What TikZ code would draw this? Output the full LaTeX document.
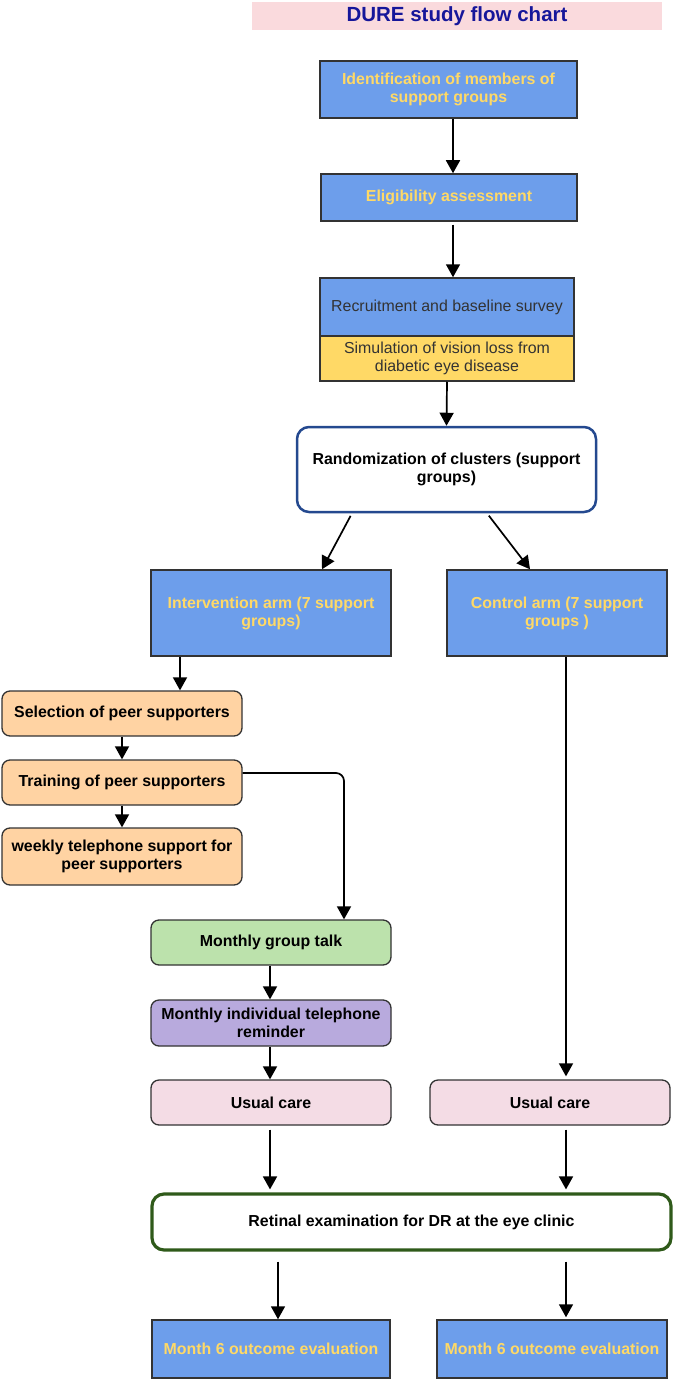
\documentclass[tikz,border=0pt]{standalone}
\usepackage{fontspec}
\setmainfont{Liberation Sans}
\usetikzlibrary{arrows.meta}
\definecolor{boxblue}{HTML}{6D9EEB}
\definecolor{txtyellow}{HTML}{FFD966}
\definecolor{simyellow}{HTML}{FFD966}
\definecolor{edgegray}{HTML}{333333}
\definecolor{peerorange}{HTML}{FFD3A3}
\definecolor{talkgreen}{HTML}{BCE2AC}
\definecolor{remindpurple}{HTML}{B8AADD}
\definecolor{carepink}{HTML}{F4DCE5}
\definecolor{titlepink}{HTML}{FADADD}
\definecolor{titleblue}{HTML}{16169A}
\definecolor{randblue}{HTML}{24498F}
\definecolor{retgreen}{HTML}{2F5A1A}
\begin{document}
\begin{tikzpicture}[x=1pt, y=-1pt, >={Triangle[length=13pt,width=14pt]},
    every node/.style={font=\fontsize{15.9}{18}\selectfont, align=center, inner sep=0pt},
    bluebox/.style={draw=edgegray, line width=1.5pt, fill=boxblue, text=txtyellow,
        font=\bfseries\fontsize{15.9}{18}\selectfont},
    softbox/.style={draw=edgegray, line width=1.3pt, rounded corners=8pt,
        font=\bfseries\fontsize{15.9}{18}\selectfont},
    flow/.style={->, line width=1.7pt}]
    \useasboundingbox (0,0) rectangle (685,1380);

    % title band
    \node[fill=titlepink, minimum width=410pt, minimum height=28pt, text=titleblue,
        font=\bfseries\fontsize{20.5}{24}\selectfont] (title) at (457,16) {DURE study flow chart};

    % enrolment
    \node[bluebox, minimum width=257pt, minimum height=57pt] (ident) at (448.5,89.5)
        {Identification of members of\\support groups};
    \node[bluebox, minimum width=256pt, minimum height=47pt] (elig) at (449,197.5)
        {Eligibility assessment};
    \node[bluebox, text=edgegray, font=\fontsize{15.9}{18}\selectfont,
        minimum width=254pt, minimum height=58pt] (recruit) at (447,307)
        {Recruitment and baseline survey};
    \node[draw=edgegray, line width=1.5pt, fill=simyellow, text=edgegray,
        minimum width=254pt, minimum height=45pt] (simul) at (447,358.5)
        {Simulation of vision loss from\\diabetic eye disease};
    \node[draw=randblue, line width=2.5pt, fill=white, rounded corners=12pt,
        font=\bfseries\fontsize{15.9}{18}\selectfont,
        minimum width=299pt, minimum height=85pt] (random) at (446.5,469.5)
        {Randomization of clusters (support\\groups)};

    % arms
    \node[bluebox, minimum width=240pt, minimum height=86pt] (interv) at (271,613)
        {Intervention arm (7 support\\groups)};
    \node[bluebox, minimum width=220pt, minimum height=86pt] (control) at (557,613)
        {Control arm (7 support\\groups )};

    % intervention steps
    \node[softbox, fill=peerorange, minimum width=240pt, minimum height=45pt] (select) at (122,713.5)
        {Selection of peer supporters};
    \node[softbox, fill=peerorange, minimum width=240pt, minimum height=45pt] (train) at (122,782.5)
        {Training of peer supporters};
    \node[softbox, fill=peerorange, minimum width=240pt, minimum height=57pt] (weekly) at (122,856.5)
        {weekly telephone support for\\peer supporters};
    \node[softbox, fill=talkgreen, minimum width=240pt, minimum height=45pt] (talk) at (271,942.5)
        {Monthly group talk};
    \node[softbox, fill=remindpurple, minimum width=240pt, minimum height=46pt] (remind) at (271,1023)
        {Monthly individual telephone\\reminder};
    \node[softbox, fill=carepink, minimum width=240pt, minimum height=45pt] (careL) at (271,1102.5)
        {Usual care};
    \node[softbox, fill=carepink, minimum width=240pt, minimum height=45pt] (careR) at (550,1102.5)
        {Usual care};

    % outcome
    \node[draw=retgreen, line width=3.2pt, fill=white, rounded corners=12pt,
        font=\bfseries\fontsize{15.9}{18}\selectfont,
        minimum width=519pt, minimum height=56pt] (retinal) at (411.5,1222)
        {Retinal examination for DR at the eye clinic};
    \node[bluebox, minimum width=238pt, minimum height=58pt] (monthL) at (271,1349)
        {Month 6 outcome evaluation};
    \node[bluebox, minimum width=230pt, minimum height=58pt] (monthR) at (552,1349)
        {Month 6 outcome evaluation};

    % connectors
    \draw[flow] (ident.south -| 453,0) -- (elig.north -| 453,0);
    \draw[flow, shorten <=3pt] (elig.south -| 453,0) -- (recruit.north -| 453,0);
    \draw[flow] (simul.south) -- (random.north);
    \draw[flow, shorten <=3pt] (random.south -| 352,0) -- (interv.north -| 322,0);
    \draw[flow, shorten <=3pt] (random.south -| 487,0) -- (control.north -| 530,0);
    \draw[flow] (interv.south -| 180,0) -- (select.north -| 180,0);
    \draw[flow] (select) -- (train);
    \draw[flow] (train) -- (weekly);
    \draw[flow, rounded corners=8pt] (train.east |- 0,773) -- (344,773) -- (talk.north -| 344,0);
    \draw[flow] (talk.south -| 270,0) -- (remind.north -| 270,0);
    \draw[flow] (remind.south -| 270,0) -- (careL.north -| 270,0);
    \draw[flow, shorten >=3pt] (control.south -| 566,0) -- (careR.north -| 566,0);
    \draw[flow, shorten <=4pt, shorten >=3pt] (careL.south -| 270,0) -- (retinal.north -| 270,0);
    \draw[flow, shorten <=4pt, shorten >=3pt] (careR.south -| 566,0) -- (retinal.north -| 566,0);
    \draw[flow, shorten <=10pt] (retinal.south -| 278,0) -- (monthL.north -| 278,0);
    \draw[flow, shorten <=10pt, shorten >=2pt] (retinal.south -| 566,0) -- (monthR.north -| 566,0);
\end{tikzpicture}
\end{document}
